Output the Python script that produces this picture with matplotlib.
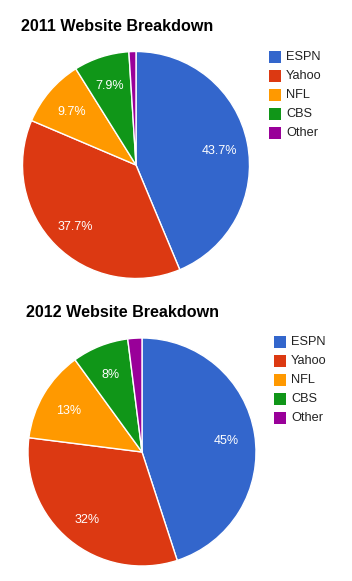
import matplotlib.pyplot as plt
from matplotlib.patches import Rectangle

plt.rcParams['font.family'] = ['Liberation Sans', 'DejaVu Sans']

sites = ['ESPN', 'Yahoo', 'NFL', 'CBS', 'Other']
colors = ['#3366cc', '#dc3912', '#ff9900', '#109618', '#990099']
share_2011 = [43.7, 37.7, 9.7, 7.9, 1.0]
share_2012 = [45, 32, 13, 8, 2]

W, H = 352, 581
fig = plt.figure(figsize=(W / 100, H / 100), dpi=100)


def px_axes(left, top, size):
    # axes box given in image pixels (origin top-left)
    return fig.add_axes([left / W, 1 - (top + size) / H, size / W, size / H])


def fig_text(x, y, s, **kw):
    fig.text(x / W, 1 - y / H, s, **kw)


def draw_pie(values, fmt, title, title_xy, box, legend_x, legend_y):
    ax = px_axes(*box)
    wedges, _, autotexts = ax.pie(
        values, colors=colors, startangle=90, counterclock=False,
        autopct=lambda p: fmt.format(p) if p > 5 else '', pctdistance=0.75,
        wedgeprops=dict(edgecolor='white', linewidth=1),
        textprops=dict(color='white', fontsize=9))
    for t in autotexts:
        t.set_y(t.get_position()[1] - 0.02)
    ax.set_xlim(-1, 1)
    ax.set_ylim(-1, 1)
    ax.axis('off')

    fig_text(*title_xy, title, fontsize=11.6, fontweight='bold', va='baseline')

    for i, (name, c) in enumerate(zip(sites, colors)):
        yc = legend_y + i * 19
        fig.add_artist(Rectangle((legend_x / W, 1 - (yc + 6) / H), 12 / W, 12 / H,
                                 facecolor=c, edgecolor='none',
                                 transform=fig.transFigure))
        fig_text(legend_x + 17, yc, name, fontsize=9.2, color='#222222', va='center')


draw_pie(share_2011, '{:.1f}%', '2011 Website Breakdown', (21, 31),
         (22.5, 51.5, 227), 269, 57)
draw_pie(share_2012, '{:.0f}%', '2012 Website Breakdown', (26, 317),
         (28, 338, 228), 274, 342)

fig.savefig('out.png', dpi=100)
